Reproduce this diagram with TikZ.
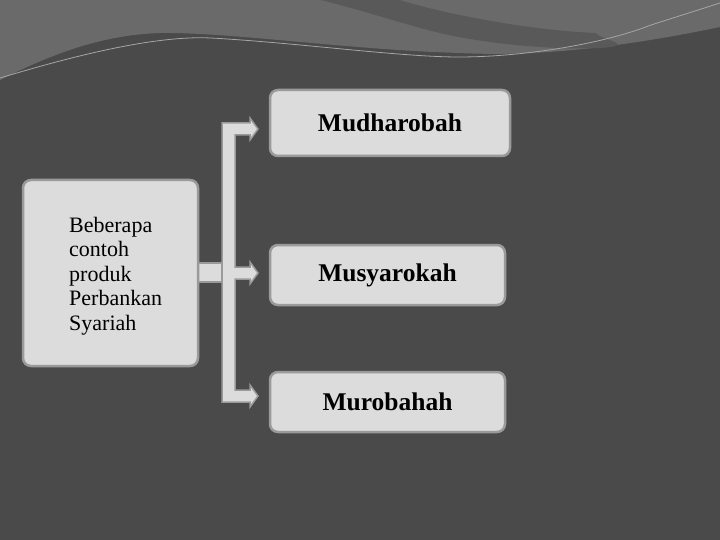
\documentclass[tikz,border=0pt]{standalone}
\usepackage{fontspec}
\setmainfont{Liberation Serif}
\definecolor{bgdark}{HTML}{4A4A4A}
\definecolor{bglight}{HTML}{6A6A6A}
\definecolor{bgband}{HTML}{595959}
\definecolor{boxfill}{HTML}{DCDCDC}
\definecolor{boxline}{HTML}{9A9A9A}
\begin{document}
\begin{tikzpicture}[x=1pt,y=-1pt,
  box/.style={draw=boxline,line width=2.5pt,fill=boxfill,rounded corners=8pt},
  conn/.style={draw=boxline,line width=1.5pt,fill=boxfill},
  label/.style={font=\fontsize{25.5}{30}\selectfont\bfseries,text=black}]
\useasboundingbox (0,0) rectangle (720,540);
\fill[bgdark] (0,0) rectangle (720,540);
% top wave
\fill[bglight] (0,0) -- (0,80) .. controls (50,55) and (100,35) .. (160,33)
  .. controls (230,32) and (350,50) .. (460,53)
  .. controls (520,56) and (600,52) .. (720,27) -- (720,0) -- cycle;
\fill[bgband] (321,0) .. controls (380,15) and (420,30) .. (459,37)
  .. controls (500,45) and (560,50) .. (600,48)
  .. controls (640,45) and (600,40) .. (596,33)
  .. controls (520,30) and (430,10) .. (400,0) -- cycle;
\draw[gray!70,line width=0.8pt] (0,78) .. controls (60,60) and (150,35) .. (211,38)
  .. controls (300,43) and (400,57) .. (459,57)
  .. controls (520,57) and (600,45) .. (651,25) -- (720,3);
% connector bracket
\path[conn] (198,263) rectangle (222,282);
\path[conn] (222,123) -- (250,123) -- (250,118) -- (258,129) -- (250,140) -- (250,135)
  -- (235,135) -- (235,267) -- (250,267) -- (250,262) -- (258,273) -- (250,284) -- (250,279)
  -- (235,279) -- (235,390) -- (250,390) -- (250,385) -- (258,396) -- (250,407) -- (250,402)
  -- (222,402) -- cycle;
% boxes
\node[box,minimum width=175pt,minimum height=186pt] (src) at (110.5,273) {};
\node[anchor=north west,align=left,font=\fontsize{22}{24.5}\selectfont,inner sep=0pt] (srctext) at (69,217)
  {Beberapa\\contoh\\produk\\Perbankan\\Syariah};
\node[box,minimum width=240pt,minimum height=66pt,label] (m1) at (390,123) {Mudharobah};
\node[box,minimum width=235pt,minimum height=60pt,label] (m2) at (387.5,275) {Musyarokah};
\node[box,minimum width=235pt,minimum height=60pt,label] (m3) at (387.5,402) {Murobahah};
\end{tikzpicture}
\end{document}
